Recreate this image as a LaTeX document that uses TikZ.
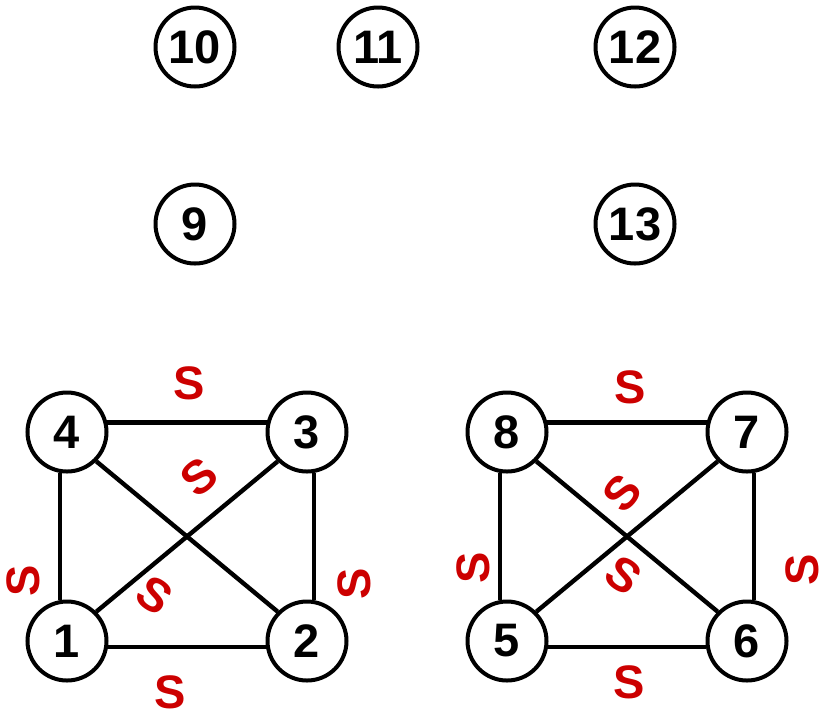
\documentclass[tikz,border=0pt]{standalone}
\usepackage{fontspec}
\setmainfont{Liberation Sans}
\usetikzlibrary{positioning}
\definecolor{slabel}{RGB}{204,0,0}

\begin{document}
\begin{tikzpicture}[x=0.5pt, y=-0.5pt,
    vtx/.style={draw, circle, line width=2pt, minimum size=39.5pt, inner sep=0pt,
      font=\fontsize{23.5}{28}\selectfont\bfseries},
    edge/.style={line width=2.2pt},
    lab/.style={text=slabel, inner sep=0pt, font=\fontsize{23.5}{28}\selectfont\bfseries}]
  \useasboundingbox (0,0) rectangle (823,714);
  % isolated vertices
  \node[vtx] (v10) at (195,47) {10};
  \node[vtx] (v11) at (378,47) {11};
  \node[vtx] (v12) at (635,47) {12};
  \node[vtx] (v9) at (195,224) {9};
  \node[vtx] (v13) at (635,224) {13};
  % left square
  \node[vtx] (v4) at (67,432) {4};
  \node[vtx] (v3) at (307,432) {3};
  \node[vtx] (v1) at (67,641) {1};
  \node[vtx] (v2) at (307,641) {2};
  % right square
  \node[vtx] (v8) at (507,432) {8};
  \node[vtx] (v7) at (747,432) {7};
  \node[vtx] (v5) at (507,641) {5};
  \node[vtx] (v6) at (747,641) {6};
  \foreach \a/\b/\c/\d in {4/3/1/2, 8/7/5/6} {
    \draw[edge] (v\a.13) -- (v\b.167);
    \draw[edge] (v\c.-8) -- (v\d.188);
    \draw[edge] (v\a.260) -- (v\c.100);
    \draw[edge] (v\b.280) -- (v\d.80);
    \draw[edge] (v\c.45) -- (v\b.225);
    \draw[edge] (v\a.-45) -- (v\d.135);
  }
  % labels
  \node[lab] (s43) at (189,383) {S};
  \node[lab, rotate=40] (s13) at (199,477) {S};
  \node[lab, rotate=90] (s41) at (23,581) {S};
  \node[lab, rotate=-35] (s42) at (155,595) {S};
  \node[lab, rotate=90] (s32) at (354,584) {S};
  \node[lab] (s12) at (170,692) {S};
  \node[lab] (s87) at (630,387) {S};
  \node[lab, rotate=50] (s57) at (622,493) {S};
  \node[lab, rotate=90] (s85) at (473,568) {S};
  \node[lab, rotate=-35] (s86) at (624,575) {S};
  \node[lab, rotate=90] (s76) at (802,570) {S};
  \node[lab] (s56) at (629,682) {S};
\end{tikzpicture}
\end{document}
